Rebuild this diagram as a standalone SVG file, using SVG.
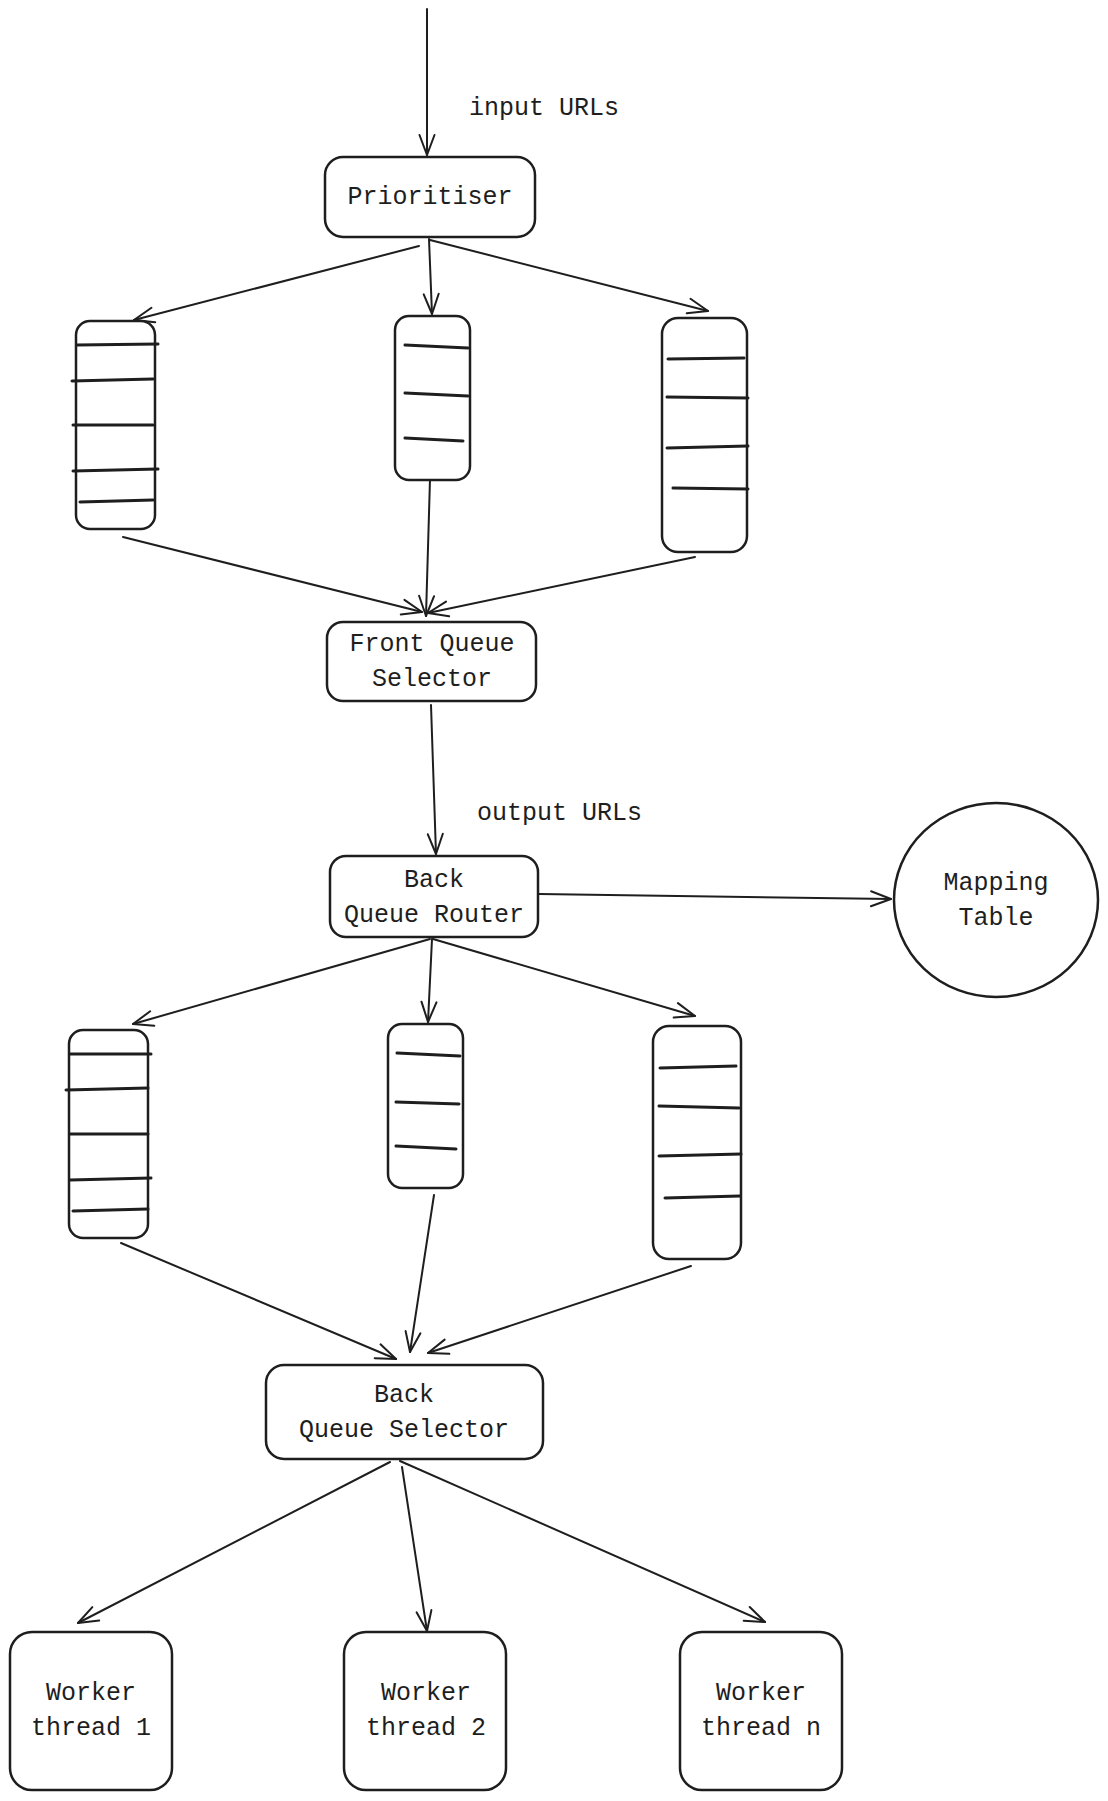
<svg xmlns="http://www.w3.org/2000/svg" width="1108" height="1801" viewBox="0 0 1108 1801">
<style>
.box{fill:#fff;stroke:#1e1e1e;stroke-width:2.5}
.ql{stroke:#1e1e1e;stroke-width:3;stroke-linecap:round}
.c{fill:none;stroke:#1e1e1e;stroke-width:2;stroke-linecap:round}
.t{font-family:"Liberation Mono","DejaVu Sans Mono",monospace;font-size:25px;fill:#1e1e1e;text-anchor:middle}
.tl{font-family:"Liberation Mono","DejaVu Sans Mono",monospace;font-size:25px;fill:#1e1e1e}
</style>
<defs>
<marker id="ah" viewBox="-24 -12 26 24" refX="0" refY="0" markerWidth="26" markerHeight="24" markerUnits="userSpaceOnUse" orient="auto" overflow="visible">
<path d="M-20,-7.5 L0,0 L-20,7.5" fill="none" stroke="#1e1e1e" stroke-width="2" stroke-linecap="round" stroke-linejoin="round"/>
</marker>
</defs>
<rect width="1108" height="1801" fill="#fff"/>
<g id="connectors">
<line class="c" x1="427" y1="9" x2="427" y2="155" marker-end="url(#ah)"/>
<line class="c" x1="419" y1="246" x2="134" y2="320" marker-end="url(#ah)" stroke-width="3"/>
<line class="c" x1="429" y1="239" x2="432" y2="314" marker-end="url(#ah)" stroke-width="2.5"/>
<line class="c" x1="430" y1="240" x2="708" y2="311" marker-end="url(#ah)"/>
<line class="c" x1="123" y1="537" x2="422" y2="612" marker-end="url(#ah)" stroke-width="3"/>
<line class="c" x1="430" y1="479" x2="426" y2="616" marker-end="url(#ah)"/>
<line class="c" x1="695" y1="557" x2="428" y2="613" marker-end="url(#ah)" stroke-width="2.5"/>
<line class="c" x1="431" y1="705" x2="436" y2="854" marker-end="url(#ah)"/>
<line class="c" x1="539" y1="894" x2="891" y2="899" marker-end="url(#ah)"/>
<line class="c" x1="430" y1="939" x2="133" y2="1024" marker-end="url(#ah)"/>
<line class="c" x1="432" y1="939" x2="428" y2="1022" marker-end="url(#ah)"/>
<line class="c" x1="433" y1="939" x2="695" y2="1016" marker-end="url(#ah)"/>
<line class="c" x1="121" y1="1243" x2="396" y2="1359" marker-end="url(#ah)" stroke-width="1.8"/>
<line class="c" x1="434" y1="1195" x2="410" y2="1352" marker-end="url(#ah)"/>
<line class="c" x1="691" y1="1266" x2="428" y2="1353" marker-end="url(#ah)"/>
<line class="c" x1="390" y1="1462" x2="78" y2="1623" marker-end="url(#ah)" stroke-width="1.8"/>
<line class="c" x1="402" y1="1467" x2="427" y2="1631" marker-end="url(#ah)"/>
<line class="c" x1="400" y1="1461" x2="765" y2="1622" marker-end="url(#ah)" stroke-width="1.8"/>
</g>
<text class="tl" x="469" y="115">input URLs</text>
<text class="tl" x="477" y="820">output URLs</text>
<g id="prioritiser">
<rect class="box" x="325" y="157" width="210" height="80" rx="18"/>
<text class="t" x="430" y="204">Prioritiser</text>
</g>
<g id="front-queue-1">
<rect class="box" x="76" y="321" width="79" height="208" rx="14"/>
<line class="ql" x1="77" y1="345" x2="158" y2="344"/>
<line class="ql" x1="72" y1="381" x2="153" y2="379"/>
<line class="ql" x1="73" y1="425" x2="153" y2="425"/>
<line class="ql" x1="73" y1="471" x2="158" y2="469"/>
<line class="ql" x1="80" y1="502" x2="153" y2="500"/>
</g>
<g id="front-queue-2">
<rect class="box" x="395" y="316" width="75" height="164" rx="14"/>
<line class="ql" x1="405" y1="345" x2="468" y2="348"/>
<line class="ql" x1="405" y1="393" x2="468" y2="396"/>
<line class="ql" x1="405" y1="438" x2="463" y2="441"/>
</g>
<g id="front-queue-3">
<rect class="box" x="662" y="318" width="85" height="234" rx="16"/>
<line class="ql" x1="668" y1="359" x2="744" y2="358"/>
<line class="ql" x1="667" y1="397" x2="748" y2="398"/>
<line class="ql" x1="667" y1="448" x2="748" y2="446"/>
<line class="ql" x1="673" y1="488" x2="748" y2="489"/>
</g>
<g id="front-queue-selector">
<rect class="box" x="327" y="622" width="209" height="79" rx="16"/>
<text class="t" x="432" y="651">Front Queue</text>
<text class="t" x="432" y="686">Selector</text>
</g>
<g id="back-queue-router">
<rect class="box" x="330" y="856" width="208" height="81" rx="16"/>
<text class="t" x="434" y="887">Back</text>
<text class="t" x="434" y="922">Queue Router</text>
</g>
<g id="mapping-table">
<ellipse class="box" cx="996" cy="900" rx="102" ry="97"/>
<text class="t" x="996" y="890">Mapping</text>
<text class="t" x="996" y="925">Table</text>
</g>
<g id="back-queue-1">
<rect class="box" x="69" y="1030" width="79" height="208" rx="14"/>
<line class="ql" x1="70" y1="1054" x2="151" y2="1054"/>
<line class="ql" x1="66" y1="1090" x2="148" y2="1088"/>
<line class="ql" x1="70" y1="1134" x2="148" y2="1134"/>
<line class="ql" x1="70" y1="1180" x2="151" y2="1178"/>
<line class="ql" x1="73" y1="1211" x2="148" y2="1209"/>
</g>
<g id="back-queue-2">
<rect class="box" x="388" y="1024" width="75" height="164" rx="14"/>
<line class="ql" x1="397" y1="1053" x2="460" y2="1056"/>
<line class="ql" x1="396" y1="1102" x2="459" y2="1104"/>
<line class="ql" x1="396" y1="1146" x2="456" y2="1149"/>
</g>
<g id="back-queue-3">
<rect class="box" x="653" y="1026" width="88" height="233" rx="16"/>
<line class="ql" x1="660" y1="1068" x2="736" y2="1066"/>
<line class="ql" x1="659" y1="1106" x2="739" y2="1108"/>
<line class="ql" x1="659" y1="1156" x2="741" y2="1154"/>
<line class="ql" x1="665" y1="1198" x2="740" y2="1196"/>
</g>
<g id="back-queue-selector">
<rect class="box" x="266" y="1365" width="277" height="94" rx="18"/>
<text class="t" x="404" y="1402">Back</text>
<text class="t" x="404" y="1437">Queue Selector</text>
</g>
<g id="worker-1">
<rect class="box" x="10" y="1632" width="162" height="158" rx="22"/>
<text class="t" x="91" y="1700">Worker</text>
<text class="t" x="91" y="1735">thread 1</text>
</g>
<g id="worker-2">
<rect class="box" x="344" y="1632" width="162" height="158" rx="22"/>
<text class="t" x="426" y="1700">Worker</text>
<text class="t" x="426" y="1735">thread 2</text>
</g>
<g id="worker-n">
<rect class="box" x="680" y="1632" width="162" height="158" rx="22"/>
<text class="t" x="761" y="1700">Worker</text>
<text class="t" x="761" y="1735">thread n</text>
</g>
</svg>
